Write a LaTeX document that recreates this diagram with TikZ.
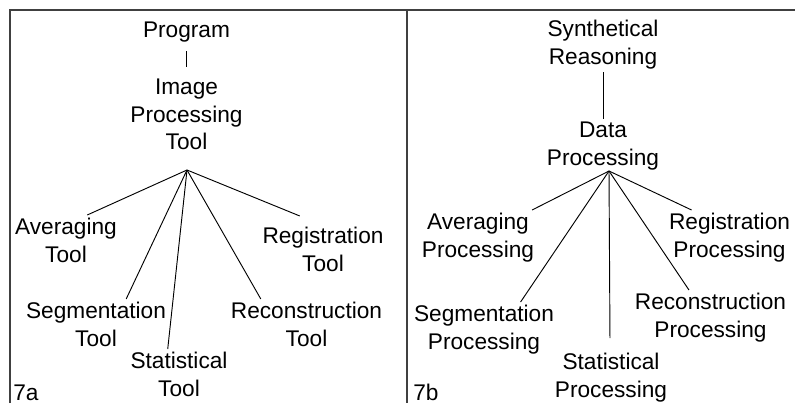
\documentclass[tikz,border=0pt]{standalone}
\usepackage{fontspec}
\setmainfont{Liberation Sans}
\usepackage{tikz}
\usetikzlibrary{positioning}

\begin{document}
\begin{tikzpicture}[x=0.75pt,y=-0.75pt]
        \useasboundingbox (0,0) rectangle (795,403);
        % frame
        \draw[line width=1.1pt,black!75] (10,403) -- (10,10) -- (795,10);
        \draw[line width=1.1pt,black!75] (407,10) -- (407,403);
        \begin{scope}[every node/.style={align=center,inner sep=2.25pt,anchor=north,font=\fontsize{17}{20.6}\selectfont}]
          % 7a
          \node (prog) at (186.5,19) {Program};
          \node (ipt) at (186.5,76) {Image\\Processing\\Tool};
          \node (avg) at (66,215) {Averaging\\Tool};
          \node (reg) at (323,224) {Registration\\Tool};
          \node (seg) at (96,299) {Segmentation\\Tool};
          \node (recon) at (306.5,299) {Reconstruction\\Tool};
          \node (stat) at (179,349) {Statistical\\Tool};
          \node[anchor=base west,inner sep=0pt] (tagA) at (13,400) {7a};
          % 7b
          \node (syn) at (603,17) {Synthetical\\Reasoning};
          \node (dp) at (603,119) {Data\\Processing};
          \node (avgR) at (478,210) {Averaging\\Processing};
          \node (regR) at (729.5,210) {Registration\\Processing};
          \node (segR) at (484,302) {Segmentation\\Processing};
          \node (reconR) at (710.5,290) {Reconstruction\\Processing};
          \node (statR) at (611,350) {Statistical\\Processing};
          \node[anchor=base west,inner sep=0pt] (tagB) at (413,400) {7b};
        \end{scope}
        \coordinate (fanA) at (187,170);
        \coordinate (fanB) at (609,171);
        \begin{scope}[every edge/.style={draw=black,line width=0.7pt}]
          \path (prog) edge[shorten <=4pt,shorten >=6.5pt] (ipt);
          \path (fanA) edge (avg.50);
          \path (fanA) edge (seg.40);
          \path (fanA) edge (stat.114);
          \path (fanA) edge (recon.151);
          \path (fanA) edge[shorten >=16pt] (reg.98);
          \path (syn) edge (dp);
          \path (fanB) edge (avgR.27);
          \path (fanB) edge (segR.37);
          \path (fanB) edge[shorten >=9pt] (statR.92);
          \path (fanB) edge (reconR.128);
          \path (fanB) edge (regR.144);
        \end{scope}
      \end{tikzpicture}
\end{document}
